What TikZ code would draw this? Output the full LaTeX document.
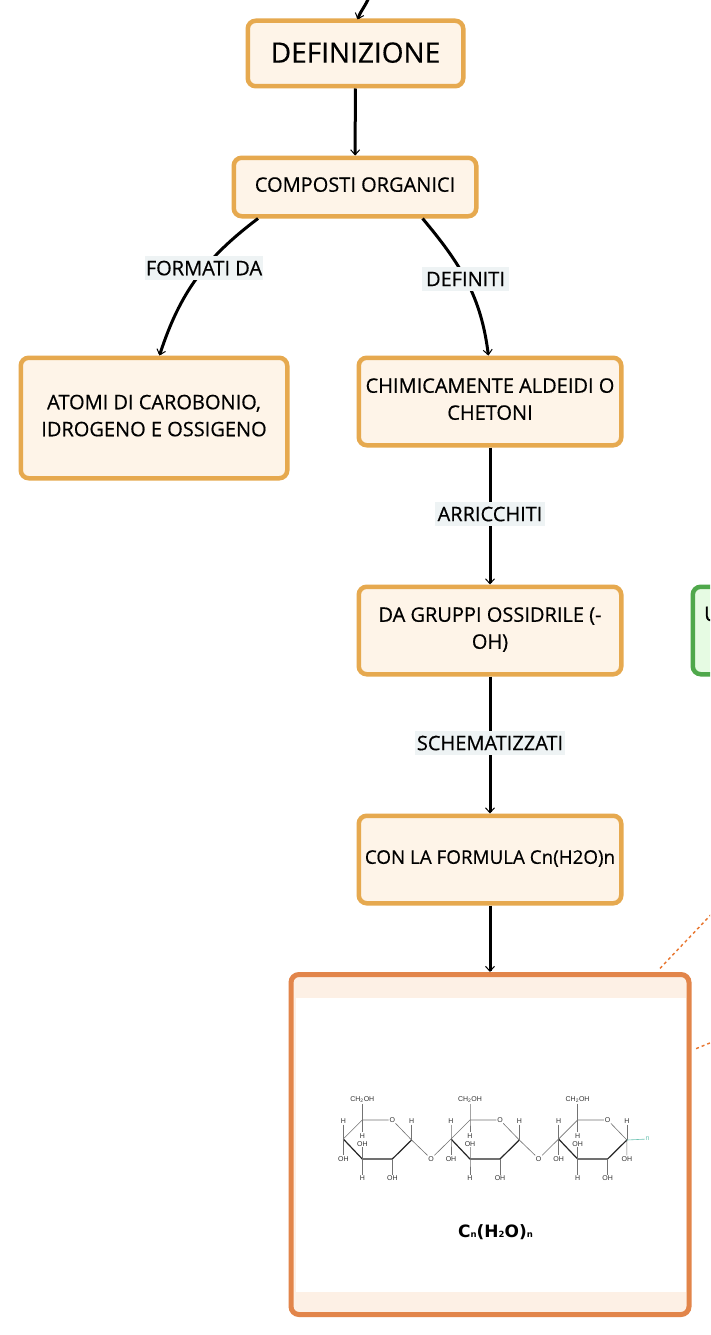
\documentclass[tikz,border=0pt]{standalone}
\usepackage{fontspec}
\setmainfont[RawFeature={embolden=0.5}]{Open Sans}
\newfontfamily\chemfont{Liberation Sans}
\newfontfamily\brutafont{DejaVu Sans}
\usetikzlibrary{arrows.meta}
\definecolor{boxline}{HTML}{E6A94F}
\definecolor{boxfill}{HTML}{FEF4E8}
\definecolor{imgline}{HTML}{E2854A}
\definecolor{imgfill}{HTML}{FDF0E5}
\definecolor{greenline}{HTML}{4FA84B}
\definecolor{greenfill}{HTML}{E6FBE3}
\definecolor{labelfill}{HTML}{EEF3F4}
\definecolor{dotline}{HTML}{E8742C}
\definecolor{tealn}{HTML}{6FC4B4}
\newcommand{\brutasub}[1]{\raisebox{-0.5pt}{\fontsize{8.5}{9}\selectfont #1}}
\tikzset{
        conceptbox/.style = {draw = boxline, fill = boxfill, line width = 4.5pt, rounded corners = 8pt,
                align = center, inner sep = 0pt, text depth = 5pt, font = \fontsize{20}{27}\selectfont},
        linklabel/.style = {fill = labelfill, inner xsep = 0.5pt, inner ysep = 0pt, minimum height = 24pt, text depth = 0pt,
                font = \fontsize{20}{24}\selectfont},
        link/.style = {line width = 3pt, -{Straight Barb[length = 5pt, width = 9pt, line width = 1pt]}},
        dotlink/.style = {draw = dotline, line width = 1.4pt, dash pattern = on 3pt off 3pt, shorten <= 5pt},
        atomlabel/.style = {inner sep = 0.7pt, text = black!80, font = \chemfont\fontsize{7}{8}\selectfont},
        bond/.style = {draw = black!55, line width = 0.6pt},
        boldbond/.style = {draw = black!85, line width = 1.2pt}
}
\begin{document}
\begin{tikzpicture}[x = 1pt, y = 1pt]
        \clip (0, 0) rectangle (710, -1335);
        \fill[white] (0, 0) rectangle (710, -1335);

        \node[conceptbox, minimum width = 215.5pt, minimum height = 65.5pt, text depth = 2pt, font = \fontsize{28}{30}\selectfont] (definizione) at (355.5, -53.5) {DEFINIZIONE};
        \node[conceptbox, minimum width = 242.5pt, minimum height = 58.5pt] (composti) at (355, -187) {COMPOSTI ORGANICI};
        \node[conceptbox, minimum width = 266.5pt, minimum height = 120.5pt] (atomi) at (154, -418) {ATOMI DI CAROBONIO,\\IDROGENO E OSSIGENO};
        \node[conceptbox, minimum width = 262.5pt, minimum height = 87.5pt] (chimica) at (490, -401.5) {CHIMICAMENTE ALDEIDI O\\CHETONI};
        \node[conceptbox, minimum width = 262.5pt, minimum height = 87.5pt] (gruppi) at (490, -630.5) {DA GRUPPI OSSIDRILE (-\\OH)};
        \node[conceptbox, minimum width = 262.5pt, minimum height = 87.5pt, font = \fontsize{18.8}{27}\selectfont] (formula) at (490, -859.5) {CON LA FORMULA Cn(H2O)n};

        % box cut by the right edge
        \node[draw = greenline, fill = greenfill, line width = 4.5pt, rounded corners = 8pt, minimum width = 262.5pt, minimum height = 87.5pt] (uso) at (824, -630.5) {};
        \node[inner sep = 0pt, font = \fontsize{20}{27}\selectfont] (usotext) at (711.5, -614) {U};

        \node[draw = imgline, fill = imgfill, line width = 5pt, rounded corners = 8pt, minimum width = 398pt, minimum height = 340pt] (immagine) at (490, -1144.5) {};
        \node[fill = white, inner sep = 0pt, minimum width = 390pt, minimum height = 294pt] (sfondo) at (491, -1145) {};

        \coordinate (sopra) at (369, 3);
        \coordinate (uscita1) at (722, -903);
        \coordinate (uscita2) at (722, -1038);

        \draw[link, shorten >= -1pt] (sopra) to[out = 250, in = 70] (definizione.86);
        \draw[link] (definizione) -- (composti);
        \draw[link] (composti.198.5) to[out = 217, in = 72] (atomi.85);
        \draw[link] (composti.-25) to[out = -50, in = 97] (chimica.92);
        \draw[link] (chimica) -- (gruppi) node[linklabel, pos = 0.485, minimum width = 110pt] (arricchiti) {ARRICCHITI};
        \draw[link] (gruppi) -- (formula) node[linklabel, pos = 0.485, minimum width = 150pt] (schematizzati) {SCHEMATIZZATI};
        \draw[link] (formula) -- (immagine);
        \draw[dotlink] (immagine.46.3) -- (uscita1);
        \draw[dotlink] (immagine.25.4) -- (uscita2);

        \node[linklabel] (formati) at (204, -268) {FORMATI DA};
        \node[linklabel, minimum width = 87pt] (definiti) at (465.5, -279) {DEFINITI};

        \foreach \nm/\dx in {a/362.3, b/470, c/577.6} {
                \begin{scope}[shift = {(\dx, -1120)}]
                        \coordinate (cc\nm) at (0, 0);
                        \coordinate (ca\nm) at (49.3, -20);
                        \coordinate (cb\nm) at (30, -39);
                        \coordinate (cd\nm) at (0, -39);
                        \coordinate (ce\nm) at (-19, -19);
                        \node[atomlabel] (o\nm) at (30, 0) {O};
                        \node[atomlabel] (ch\nm) at (0, 20) {CH\textsubscript{2}OH};
                        \node[atomlabel] (ha\nm) at (49.3, -1.3) {H};
                        \node[atomlabel] (he\nm) at (-19, -1.3) {H};
                        \node[atomlabel] (hc\nm) at (0, -15.7) {H};
                        \node[atomlabel] (hi\nm) at (0, -24) {OH};
                        \node[atomlabel] (oe\nm) at (-19, -38.7) {OH};
                        \node[atomlabel] (hd\nm) at (0, -58) {H};
                        \node[atomlabel] (ob\nm) at (30, -58) {OH};
                \end{scope}
                \draw[bond] (ce\nm) -- (cc\nm) -- (o\nm) -- (ca\nm);
                \draw[boldbond] (ce\nm) -- (cd\nm) -- (cb\nm) -- (ca\nm);
                \draw[bond] (ch\nm) -- (cc\nm) -- (hc\nm);
                \draw[bond] (ha\nm) -- (ca\nm);
                \draw[bond] (he\nm) -- (ce\nm) -- (oe\nm);
                \draw[bond] (hi\nm) -- (cd\nm) -- (hd\nm);
                \draw[bond] (cb\nm) -- (ob\nm);
        }
        \node[atomlabel] (ga) at (431, -1158.7) {O};
        \node[atomlabel] (gb) at (538.7, -1158.7) {O};
        \draw[bond] (caa) -- (ga) -- (ceb);
        \draw[bond] (cab) -- (gb) -- (cec);
        \node[atomlabel] (ofine) at (626.9, -1158.7) {OH};
        \node[atomlabel, text = tealn] (nfine) at (647.6, -1139) {n};
        \draw[bond] (cac) -- (ofine);
        \draw[bond, draw = tealn] (cac) -- (nfine);

        \node[inner sep = 0pt, font = \brutafont\bfseries\fontsize{17}{20}\selectfont] (bruta) at (495.5, -1232) {C\brutasub{n}(H\brutasub{2}O)\brutasub{n}};
\end{tikzpicture}
\end{document}
